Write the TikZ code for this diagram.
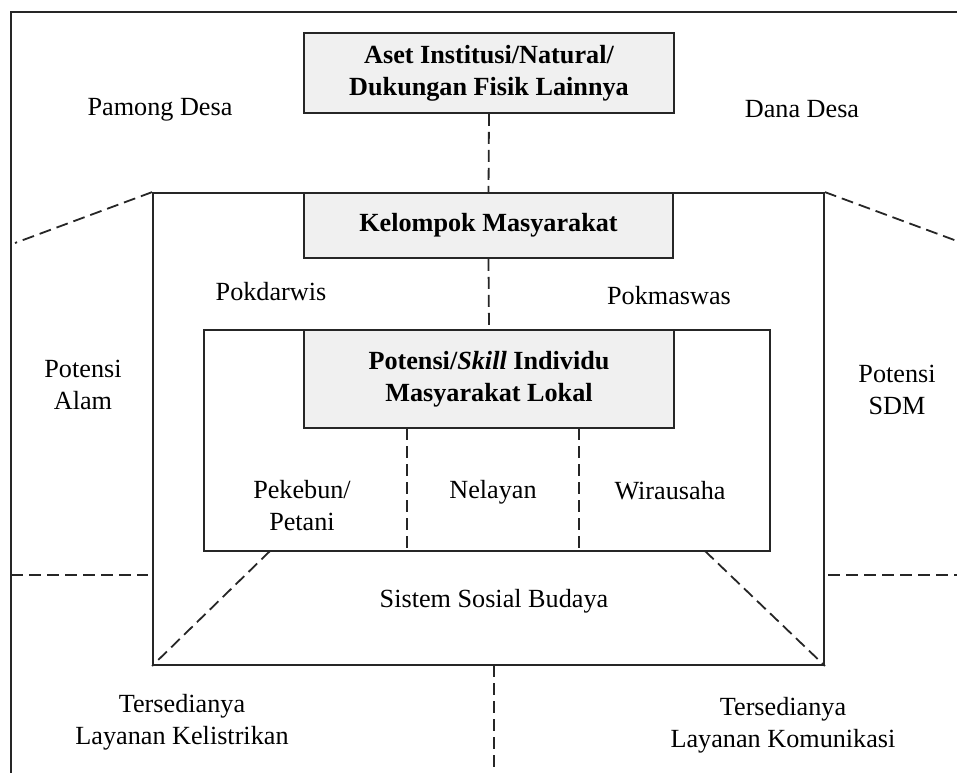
\documentclass[tikz,border=0pt]{standalone}
\usepackage{fontspec}
\setmainfont{Liberation Serif}
\begin{document}
\begin{tikzpicture}[x=0.5pt,y=-0.5pt,
  every node/.style={font=\fontsize{13.1}{16}\selectfont, align=center},
  frame/.style={draw=black!85, line width=0.9pt},
  graybox/.style={frame, fill=black!6, inner sep=0pt, font=\fontsize{13.1}{16}\selectfont\bfseries},
  openbox/.style={frame, inner sep=0pt},
  dline/.style={draw=black!85, line width=0.9pt, dash pattern=on 6pt off 3pt},
  lbl/.style={inner sep=1pt}]
\useasboundingbox (0,0) rectangle (957,773);
% outer frame (top and left)
\coordinate (ftr) at (957,12);
\coordinate (ftl) at (11,12);
\coordinate (fbl) at (11,773);
\draw[frame] (ftr) -- (ftl) -- (fbl);
% boxes
\node[openbox, minimum width=335.5pt, minimum height=236pt] (mid) at (488.5,429) {};
\node[openbox, minimum width=283pt, minimum height=110.5pt] (inner) at (487,440.5) {};
\node[graybox, minimum width=185pt, minimum height=40pt] (aset) at (489,73) {Aset Institusi/Natural/\\Dukungan Fisik Lainnya};
\node[graybox, minimum width=184.5pt, minimum height=32.5pt] (kel) at (488.5,225.5) {Kelompok Masyarakat};
\node[graybox, minimum width=185pt, minimum height=49pt] (pot) at (489,379) {Potensi/\textit{Skill} Individu\\Masyarakat Lokal};
% vertical dashed connectors
\draw[dline] (aset.south) -- (kel.north);
\draw[dline] (kel.south) -- (pot.north);
\coordinate (d1t) at (407,428); \coordinate (d1b) at (407,551);
\coordinate (d2t) at (579,428); \coordinate (d2b) at (579,551);
\draw[dline] (d1t) -- (d1b);
\draw[dline] (d2t) -- (d2b);
\coordinate (bvt) at (494,665); \coordinate (bvb) at (494,767);
\draw[dline] (bvt) -- (bvb);
% diagonals and horizontals
\coordinate (ldt) at (15,243);
\coordinate (rdt) at (957,241);
\draw[dline] (mid.north west) -- (ldt);
\draw[dline] (mid.north east) -- (rdt);
\coordinate (lh1) at (11,575); \coordinate (lh2) at (148,575);
\coordinate (rh1) at (828,575); \coordinate (rh2) at (957,575);
\draw[dline] (lh1) -- (lh2);
\draw[dline] (rh1) -- (rh2);
\coordinate (ibl) at (270,551); \coordinate (ibr) at (705,551);
\draw[dline] (ibl) -- (mid.south west);
\draw[dline] (ibr) -- (mid.south east);
% labels
\node[lbl] (pamong) at (160,110) {Pamong Desa};
\node[lbl] (dana) at (802,109) {Dana Desa};
\node[lbl] (pokd) at (271,292) {Pokdarwis};
\node[lbl] (pokm) at (669,296) {Pokmaswas};
\node[lbl] (palam) at (83,385) {Potensi\\Alam};
\node[lbl] (psdm) at (897,390) {Potensi\\SDM};
\node[lbl] (pek) at (302,506) {Pekebun/\\Petani};
\node[lbl] (nel) at (493,492) {Nelayan};
\node[lbl] (wir) at (670,491) {Wirausaha};
\node[lbl] (sis) at (494,601) {Sistem Sosial Budaya};
\node[lbl] (lis) at (182,722) {Tersedianya\\Layanan Kelistrikan};
\node[lbl] (kom) at (783,725) {Tersedianya\\Layanan Komunikasi};
\end{tikzpicture}
\end{document}
